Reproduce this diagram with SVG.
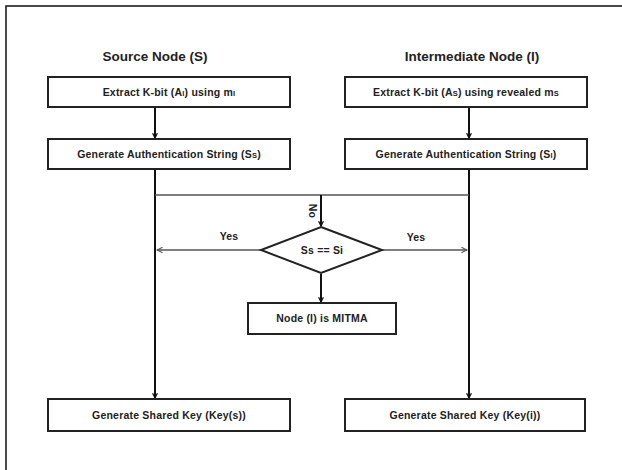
<svg xmlns="http://www.w3.org/2000/svg" width="622" height="470" viewBox="0 0 622 470">
<style>
.box{fill:#fff;stroke:#222;stroke-width:2}
.t{font-family:"Liberation Sans",Arial,sans-serif;font-weight:bold;font-size:10.5px;fill:#222;text-anchor:middle;letter-spacing:0.2px}
.title{font-family:"Liberation Sans",Arial,sans-serif;font-weight:bold;font-size:13.5px;fill:#222;text-anchor:middle}
.main{fill:none;stroke:#111;stroke-width:2}
.thin{fill:none;stroke:#555;stroke-width:1.5}
.sub{font-size:7.5px}
</style>
<defs>
<marker id="ah" viewBox="0 0 10 10" refX="9" refY="5" markerWidth="6" markerHeight="6" orient="auto" markerUnits="userSpaceOnUse">
<path d="M1,1 L9,5 L1,9" fill="none" stroke="#111" stroke-width="2"/>
</marker>
<marker id="ah2" viewBox="0 0 10 10" refX="9" refY="5" markerWidth="7" markerHeight="7" orient="auto" markerUnits="userSpaceOnUse">
<path d="M1,1 L9,5 L1,9" fill="none" stroke="#555" stroke-width="1.5"/>
</marker>
</defs>
<path d="M6,470 V6 H622" fill="none" stroke="#111" stroke-width="1.5"/>
<text class="title" x="155" y="61">Source Node (S)</text>
<text class="title" x="472" y="61">Intermediate Node (I)</text>
<g id="connectors">
<line class="main" x1="155" y1="107" x2="155" y2="138" marker-end="url(#ah)"/>
<line class="main" x1="469" y1="107" x2="469" y2="138" marker-end="url(#ah)"/>
<line class="main" x1="155" y1="169" x2="155" y2="398" marker-end="url(#ah)"/>
<line class="main" x1="469" y1="169" x2="469" y2="398" marker-end="url(#ah)"/>
<line class="thin" x1="155" y1="195" x2="469" y2="195"/>
<line class="main" x1="321" y1="195" x2="321" y2="226" marker-end="url(#ah)"/>
<line class="thin" x1="261" y1="250" x2="157" y2="250" marker-end="url(#ah2)"/>
<line class="thin" x1="382" y1="250" x2="467" y2="250" marker-end="url(#ah2)"/>
<line class="main" x1="321" y1="274" x2="321" y2="302" marker-end="url(#ah)"/>
<text class="t" x="229" y="240">Yes</text>
<text class="t" x="416" y="241">Yes</text>
<text class="t" transform="translate(309,211) rotate(90)">No</text>
</g>
<g id="extractS">
<rect class="box" x="48" y="77" width="242" height="30"/>
<text class="t" x="169" y="96">Extract K-bit (A<tspan class="sub">I</tspan>) using m<tspan class="sub">I</tspan></text>
</g>
<g id="authS">
<rect class="box" x="48" y="139" width="242" height="30"/>
<text class="t" x="169" y="158">Generate Authentication String (S<tspan class="sub">S</tspan>)</text>
</g>
<g id="extractI">
<rect class="box" x="345" y="77" width="242" height="30"/>
<text class="t" x="466" y="96">Extract K-bit (A<tspan class="sub">S</tspan>) using revealed m<tspan class="sub">S</tspan></text>
</g>
<g id="authI">
<rect class="box" x="345" y="139" width="242" height="30"/>
<text class="t" x="466" y="158">Generate Authentication String (S<tspan class="sub">I</tspan>)</text>
</g>
<g id="decision">
<polygon class="box" points="321,227 382,250 321,273 261,250"/>
<text class="t" x="322" y="254">Ss == Si</text>
</g>
<g id="mitma">
<rect class="box" x="248" y="303" width="148" height="31"/>
<text class="t" x="322" y="322">Node (I) is MITMA</text>
</g>
<g id="keyS">
<rect class="box" x="48" y="399" width="242" height="32"/>
<text class="t" x="169" y="419">Generate Shared Key (Key(s))</text>
</g>
<g id="keyI">
<rect class="box" x="345" y="399" width="240" height="32"/>
<text class="t" x="465" y="419">Generate Shared Key (Key(i))</text>
</g>
</svg>
